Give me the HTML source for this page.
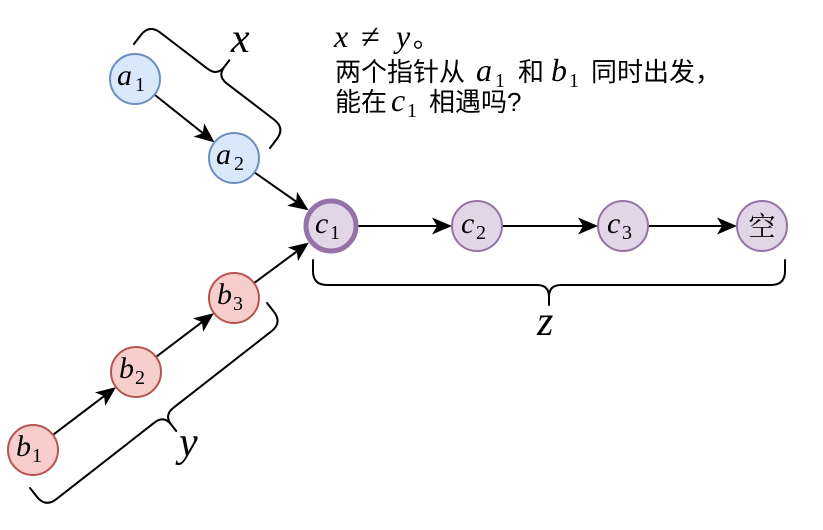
<!DOCTYPE html>
<html>
<head>
<meta charset="utf-8">
<style>
html,body{margin:0;padding:0;background:#fff;}
svg{display:block;}
.m{font-family:"Liberation Serif",serif;font-style:italic;}
.s{font-family:"Liberation Serif",serif;font-style:normal;}
.cjk{font-family:"Liberation Sans","Noto Sans CJK SC",sans-serif;}
</style>
</head>
<body>
<svg width="823" height="530" viewBox="0 0 823 530" xmlns="http://www.w3.org/2000/svg">
<defs>
<marker id="ah" markerUnits="userSpaceOnUse" markerWidth="22" markerHeight="18" refX="10" refY="8.5" orient="auto" overflow="visible">
<path d="M0,0 L20,8.5 L0,17 L5,8.5 Z" fill="#000"/>
</marker>
</defs>

<!-- braces -->
<g fill="none" stroke="#000" stroke-width="2" stroke-linecap="round">
  <path transform="translate(134,44) rotate(37.4) scale(1,-1)" d="M0,0 L0,11 Q0,25 14,25 L73.6,25 Q85.6,25 85.6,37 L85.6,45 M171.2,0 L171.2,11 Q171.2,25 157.2,25 L97.6,25 Q85.6,25 85.6,37"/>
  <path transform="translate(30,488) rotate(-37.97)" d="M0,0 L0,11 Q0,25 14,25 L138.35,25 Q150.35,25 150.35,37 L150.35,45 M300.7,0 L300.7,11 Q300.7,25 286.7,25 L162.35,25 Q150.35,25 150.35,37"/>
  <path transform="translate(313,260)" d="M0,0 L0,11 Q0,25 14,25 L224,25 Q236,25 236,37 L236,45 M472,0 L472,11 Q472,25 458,25 L248,25 Q236,25 236,37"/>
</g>

<!-- arrows -->
<g stroke="#000" stroke-width="2" fill="none" marker-end="url(#ah)">
  <line x1="154.5" y1="94.6" x2="206.7" y2="136.2"/>
  <line x1="254.5" y1="172.4" x2="300.3" y2="204.5"/>
  <line x1="254.1" y1="283.1" x2="300.9" y2="248.4"/>
  <line x1="52.9" y1="434.9" x2="108.1" y2="393.1"/>
  <line x1="156" y1="356.9" x2="206" y2="319.1"/>
  <line x1="358.5" y1="226" x2="442" y2="226"/>
  <line x1="502" y1="226" x2="588" y2="226"/>
  <line x1="648" y1="226" x2="727" y2="226"/>
</g>

<!-- nodes -->
<g stroke-width="2">
  <circle cx="135" cy="79" r="25" fill="#dae8fc" stroke="#6c8ebf"/>
  <circle cx="234" cy="158" r="25" fill="#dae8fc" stroke="#6c8ebf"/>
  <circle cx="33" cy="450" r="25" fill="#f8cecc" stroke="#b85450"/>
  <circle cx="136" cy="372" r="25" fill="#f8cecc" stroke="#b85450"/>
  <circle cx="234" cy="298" r="25" fill="#f8cecc" stroke="#b85450"/>
  <circle cx="331" cy="226" r="25" fill="#e1d5e7" stroke="#9673a6" stroke-width="5"/>
  <circle cx="477" cy="226" r="25" fill="#e1d5e7" stroke="#9673a6"/>
  <circle cx="623" cy="226" r="25" fill="#e1d5e7" stroke="#9673a6"/>
  <circle cx="762" cy="226" r="25" fill="#e1d5e7" stroke="#9673a6"/>
</g>

<!-- node labels -->
<g font-size="30" fill="#000">
  <text class="m" x="117" y="85">a</text><text class="s" font-size="20" x="135" y="91">1</text>
  <text class="m" x="216" y="164">a</text><text class="s" font-size="20" x="234" y="170">2</text>
  <text class="m" x="16" y="456">b</text><text class="s" font-size="20" x="32" y="462">1</text>
  <text class="m" x="119" y="378">b</text><text class="s" font-size="20" x="135" y="384">2</text>
  <text class="m" x="217" y="304">b</text><text class="s" font-size="20" x="233" y="310">3</text>
  <text class="m" x="315" y="233">c</text><text class="s" font-size="20" x="330" y="239">1</text>
  <text class="m" x="461" y="233">c</text><text class="s" font-size="20" x="476" y="239">2</text>
  <text class="m" x="607" y="233">c</text><text class="s" font-size="20" x="622" y="239">3</text>
  <text x="762" y="236" text-anchor="middle" font-size="27" style="font-family:'Noto Serif CJK SC','Noto Sans CJK SC',serif;">空</text>
</g>

<!-- brace labels -->
<g font-size="42" fill="#000">
  <text class="m" x="231" y="52">x</text>
  <text class="m" x="179" y="456">y</text>
  <text class="m" x="537" y="335">z</text>
</g>

<!-- description text -->
<g fill="#000">
  <text class="m" x="334" y="47" font-size="32">x</text>
  <text class="s" x="361" y="48" font-size="34">≠</text>
  <text class="m" x="396" y="47" font-size="32">y</text>
  <text class="cjk" x="413" y="47" font-size="26">。</text>

  <text class="cjk" x="335" y="81" font-size="26">两个指针从</text>
  <text class="m" x="476" y="81" font-size="32">a</text>
  <text class="s" x="495" y="87" font-size="20">1</text>
  <text class="cjk" x="518" y="81" font-size="26">和</text>
  <text class="m" x="551" y="81" font-size="32">b</text>
  <text class="s" x="569" y="87" font-size="20">1</text>
  <text class="cjk" x="591" y="81" font-size="26">同时出发，</text>

  <text class="cjk" x="335" y="111" font-size="26">能在</text>
  <text class="m" x="391" y="111" font-size="32">c</text>
  <text class="s" x="407" y="117" font-size="20">1</text>
  <text class="cjk" x="429" y="111" font-size="26">相遇吗?</text>
</g>
</svg>
</body>
</html>
